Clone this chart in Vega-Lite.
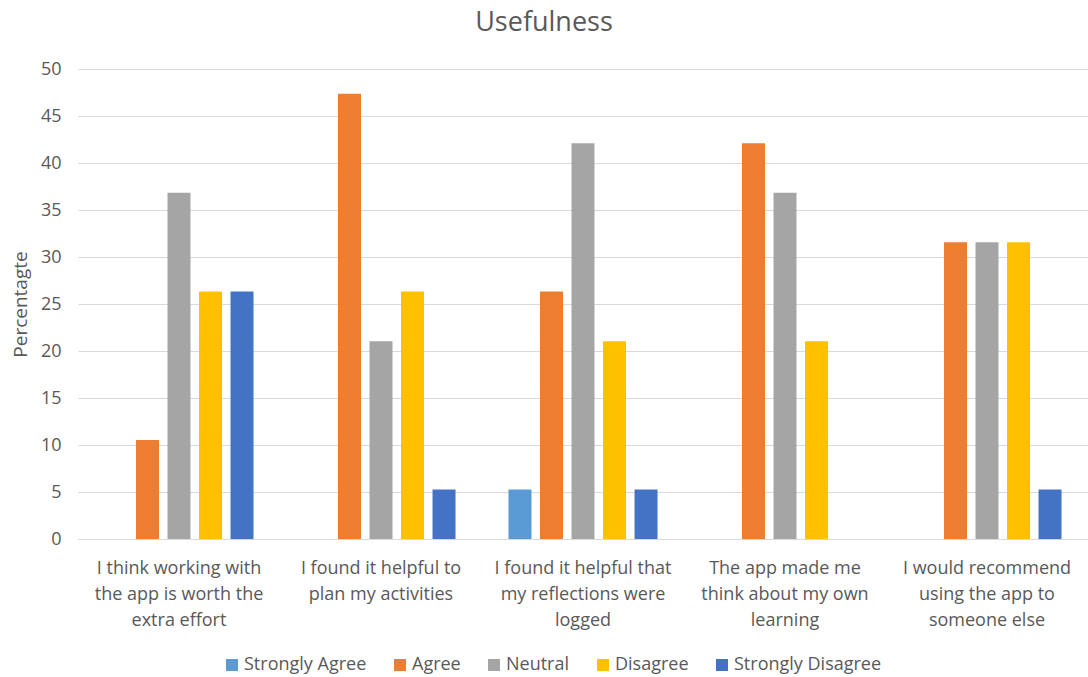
{
  "$schema": "https://vega.github.io/schema/vega-lite/v6.json",
  "width": 1010,
  "height": 470,
  "autosize": {"type": "none"},
  "padding": {"left": 78, "top": 69, "right": 0, "bottom": 138},
  "background": "white",
  "title": {
    "text": "Usefulness",
    "fontSize": 27,
    "font": "Open Sans",
    "fontWeight": "normal",
    "color": "#595959",
    "anchor": "middle",
    "frame": "group",
    "baseline": "alphabetic",
    "offset": 2,
    "dx": -39
  },
  "data": {
    "values": [
      {"statement": "I think working with the app is worth the extra effort", "response": "Strongly Agree", "pct": 0},
      {"statement": "I think working with the app is worth the extra effort", "response": "Agree", "pct": 10.53},
      {"statement": "I think working with the app is worth the extra effort", "response": "Neutral", "pct": 36.84},
      {"statement": "I think working with the app is worth the extra effort", "response": "Disagree", "pct": 26.32},
      {"statement": "I think working with the app is worth the extra effort", "response": "Strongly Disagree", "pct": 26.32},
      {"statement": "I found it helpful to plan my activities", "response": "Strongly Agree", "pct": 0},
      {"statement": "I found it helpful to plan my activities", "response": "Agree", "pct": 47.37},
      {"statement": "I found it helpful to plan my activities", "response": "Neutral", "pct": 21.05},
      {"statement": "I found it helpful to plan my activities", "response": "Disagree", "pct": 26.32},
      {"statement": "I found it helpful to plan my activities", "response": "Strongly Disagree", "pct": 5.26},
      {"statement": "I found it helpful that my reflections were logged", "response": "Strongly Agree", "pct": 5.26},
      {"statement": "I found it helpful that my reflections were logged", "response": "Agree", "pct": 26.32},
      {"statement": "I found it helpful that my reflections were logged", "response": "Neutral", "pct": 42.11},
      {"statement": "I found it helpful that my reflections were logged", "response": "Disagree", "pct": 21.05},
      {"statement": "I found it helpful that my reflections were logged", "response": "Strongly Disagree", "pct": 5.26},
      {"statement": "The app made me think about my own learning", "response": "Strongly Agree", "pct": 0},
      {"statement": "The app made me think about my own learning", "response": "Agree", "pct": 42.11},
      {"statement": "The app made me think about my own learning", "response": "Neutral", "pct": 36.84},
      {"statement": "The app made me think about my own learning", "response": "Disagree", "pct": 21.05},
      {"statement": "The app made me think about my own learning", "response": "Strongly Disagree", "pct": 0},
      {"statement": "I would recommend using the app to someone else", "response": "Strongly Agree", "pct": 0},
      {"statement": "I would recommend using the app to someone else", "response": "Agree", "pct": 31.58},
      {"statement": "I would recommend using the app to someone else", "response": "Neutral", "pct": 31.58},
      {"statement": "I would recommend using the app to someone else", "response": "Disagree", "pct": 31.58},
      {"statement": "I would recommend using the app to someone else", "response": "Strongly Disagree", "pct": 5.26}
    ]
  },
  "mark": {"type": "bar"},
  "encoding": {
    "x": {
      "field": "statement",
      "type": "nominal",
      "sort": null,
      "scale": {"paddingInner": 0.22, "paddingOuter": 0.11},
      "axis": {
        "title": null,
        "labelAngle": 0,
        "ticks": false,
        "domainColor": "#D9D9D9",
        "domainWidth": 1,
        "labelFont": "Open Sans",
        "labelFontSize": 18,
        "labelColor": "#595959",
        "labelLineHeight": 26,
        "labelPadding": 20,
        "labelLimit": 300,
        "labelExpr": "datum.value == 'I think working with the app is worth the extra effort' ? ['I think working with', 'the app is worth the', 'extra effort'] : datum.value == 'I found it helpful to plan my activities' ? ['I found it helpful to', 'plan my activities'] : datum.value == 'I found it helpful that my reflections were logged' ? ['I found it helpful that', 'my reflections were', 'logged'] : datum.value == 'The app made me think about my own learning' ? ['The app made me', 'think about my own', 'learning'] : ['I would recommend', 'using the app to', 'someone else']"
      }
    },
    "xOffset": {
      "field": "response",
      "type": "nominal",
      "sort": ["Strongly Agree", "Agree", "Neutral", "Disagree", "Strongly Disagree"],
      "scale": {"paddingInner": 0.27, "paddingOuter": 0.135}
    },
    "y": {
      "field": "pct",
      "type": "quantitative",
      "scale": {"domain": [0, 50]},
      "axis": {
        "title": "Percentagte",
        "titleFont": "Open Sans",
        "titleFontSize": 19,
        "titleFontWeight": "normal",
        "titleColor": "#595959",
        "titlePadding": 10,
        "values": [0, 5, 10, 15, 20, 25, 30, 35, 40, 45, 50],
        "domain": false,
        "ticks": false,
        "grid": true,
        "gridColor": "#D9D9D9",
        "gridWidth": 1,
        "labelFont": "Open Sans",
        "labelFontSize": 18,
        "labelColor": "#595959",
        "labelPadding": 17
      }
    },
    "color": {
      "field": "response",
      "type": "nominal",
      "sort": ["Strongly Agree", "Agree", "Neutral", "Disagree", "Strongly Disagree"],
      "scale": {
        "domain": ["Strongly Agree", "Agree", "Neutral", "Disagree", "Strongly Disagree"],
        "range": ["#5B9BD5", "#ED7D31", "#A5A5A5", "#FFC000", "#4472C4"]
      },
      "legend": {
        "title": null,
        "orient": "none",
        "direction": "horizontal",
        "legendX": 145,
        "legendY": 587,
        "symbolType": "square",
        "symbolSize": 144,
        "symbolStrokeWidth": 0,
        "labelFont": "Open Sans",
        "labelFontSize": 18,
        "labelColor": "#595959",
        "labelOffset": 3,
        "columnPadding": 24
      }
    }
  },
  "config": {
    "view": {"stroke": null}
  }
}
